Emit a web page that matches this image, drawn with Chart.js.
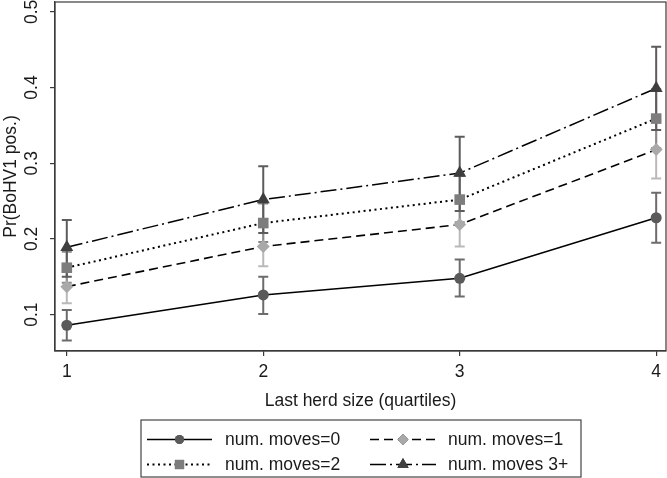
<!DOCTYPE html>
<html>
<head>
<meta charset="utf-8">
<script src="https://cdn.jsdelivr.net/npm/chart.js@4/dist/chart.umd.min.js"></script>
<style>
  html, body { margin: 0; padding: 0; background: #fff; }
  #wrap { width: 667px; height: 478px; position: relative; }
</style>
</head>
<body>
<div id="wrap"><canvas id="chart"></canvas></div>
<script>
// ─── Data ─────────────────────────────────────────────────────────────────────
const herdQuartiles = [1, 2, 3, 4];
const xTicks = [1, 2, 3, 4];
const yTicks = [0.1, 0.2, 0.3, 0.4, 0.5];
const yTickLabels = ['0.1', '0.2', '0.3', '0.4', '0.5'];

const seriesLabels = ['num. moves=0', 'num. moves=1', 'num. moves=2', 'num. moves 3+'];

const moves0 = [0.086, 0.126, 0.148, 0.228];
const moves0Lo = [0.066, 0.101, 0.124, 0.195];
const moves0Hi = [0.106, 0.150, 0.173, 0.261];

const moves1 = [0.137, 0.190, 0.219, 0.318];
const moves1Lo = [0.115, 0.164, 0.190, 0.280];
const moves1Hi = [0.159, 0.216, 0.249, 0.357];

const moves2 = [0.162, 0.221, 0.252, 0.359];
const moves2Lo = [0.142, 0.196, 0.222, 0.320];
const moves2Hi = [0.183, 0.247, 0.283, 0.398];

const moves3 = [0.189, 0.252, 0.287, 0.399];
const moves3Lo = [0.150, 0.208, 0.237, 0.344];
const moves3Hi = [0.225, 0.296, 0.335, 0.454];

// ─── Styles ───────────────────────────────────────────────────────────────────
const FONT = 'Liberation Sans, Arial, Helvetica, sans-serif';
const FSIZE = 17.5;
const styles = [
    { point: 'circle', radius: 5.5, fill: '#5a5a5a', bar: '#6c6c6c', dash: [], width: 1.5 },
    { point: 'rectRot', radius: 6.5, fill: '#a9a9a9', bar: '#b9b9b9', dash: [9, 5], width: 1.6 },
    { point: 'rect', radius: 7.5, fill: '#7d7d7d', bar: '#8a8a8a', dash: [2, 3.5], width: 2 },
    { point: 'triangle', radius: 7.5, fill: '#3f3f3f', bar: '#5c5c5c', dash: [16, 4, 2, 4], width: 1.5 },
];
const values = [moves0, moves1, moves2, moves3];
const lows = [moves0Lo, moves1Lo, moves2Lo, moves3Lo];
const highs = [moves0Hi, moves1Hi, moves2Hi, moves3Hi];

const datasets = values.map((vals, i) => ({
    label: seriesLabels[i],
    data: herdQuartiles.map((q, j) => ({ x: q, y: vals[j] })),
    borderColor: '#000',
    borderWidth: styles[i].width,
    borderDash: styles[i].dash,
    pointStyle: styles[i].point,
    pointRadius: styles[i].radius,
    pointBackgroundColor: styles[i].fill,
    pointBorderColor: styles[i].fill,
    pointBorderWidth: 0,
    tension: 0,
    fill: false,
}));

// ─── Plugins ──────────────────────────────────────────────────────────────────
const errorBars = {
    id: 'errorBars',
    beforeDatasetsDraw(chart) {
        const { ctx, scales: { x, y } } = chart;
        ctx.save();
        ctx.lineWidth = 2;
        ctx.setLineDash([]);
        values.forEach((vals, i) => {
            ctx.strokeStyle = styles[i].bar;
            herdQuartiles.forEach((q, j) => {
                const px = x.getPixelForValue(q);
                const top = y.getPixelForValue(highs[i][j]);
                const bot = y.getPixelForValue(lows[i][j]);
                ctx.beginPath();
                ctx.moveTo(px, top); ctx.lineTo(px, bot);
                ctx.moveTo(px - 5, top); ctx.lineTo(px + 5, top);
                ctx.moveTo(px - 5, bot); ctx.lineTo(px + 5, bot);
                ctx.stroke();
            });
        });
        ctx.restore();
    },
};

const frame = {
    id: 'frame',
    afterDraw(chart) {
        const { ctx, chartArea: a } = chart;
        ctx.save();
        ctx.strokeStyle = '#3a3a3a';
        ctx.lineWidth = 1.2;
        ctx.strokeRect(a.left, a.top, a.right - a.left, a.bottom - a.top);
        ctx.restore();
    },
};

// legend box with line + marker samples, Stata style
const boxLegend = {
    id: 'boxLegend',
    afterDraw(chart) {
        const { ctx } = chart;
        const box = { left: 141, top: 420, right: 581, bottom: 477 };
        const rows = [439.5, 464.5];
        const cols = [{ x0: 147, x1: 212, tx: 225 }, { x0: 370, x1: 436, tx: 448 }];
        ctx.save();
        ctx.strokeStyle = '#444';
        ctx.lineWidth = 1.2;
        ctx.strokeRect(box.left, box.top, box.right - box.left, box.bottom - box.top);
        chart.data.datasets.forEach((ds, i) => {
            const c = cols[i % 2];
            const ry = rows[Math.floor(i / 2)];
            ctx.strokeStyle = '#000';
            ctx.lineWidth = ds.borderWidth;
            ctx.setLineDash(ds.borderDash);
            ctx.beginPath();
            ctx.moveTo(c.x0, ry); ctx.lineTo(c.x1, ry);
            ctx.stroke();
            ctx.setLineDash([]);
            Chart.helpers.drawPoint(ctx, {
                pointStyle: ds.pointStyle,
                radius: ds.pointRadius - 1,
                borderWidth: 0,
                rotation: 0,
            }, (c.x0 + c.x1) / 2, ry);
            ctx.fillStyle = ds.pointBackgroundColor;
            ctx.fill();
            ctx.fillStyle = '#1a1a1a';
            ctx.font = FSIZE + 'px ' + FONT;
            ctx.textBaseline = 'middle';
            ctx.textAlign = 'left';
            ctx.fillText(ds.label, c.tx, ry + 1);
        });
        ctx.restore();
    },
};

// ─── Chart ────────────────────────────────────────────────────────────────────
new Chart(document.getElementById('chart'), {
    type: 'line',
    data: { datasets },
    plugins: [errorBars, frame, boxLegend],
    options: {
        responsive: true,
        maintainAspectRatio: false,
        animation: false,
        clip: false,
        layout: { autoPadding: false, padding: { left: 0, right: 1, top: 2, bottom: 66 } },
        plugins: {
            legend: { display: false },
            tooltip: { enabled: false },
        },
        scales: {
            x: {
                type: 'linear',
                min: 0.94,
                max: 4.05,
                afterBuildTicks: s => { s.ticks = xTicks.map(v => ({ value: v })); },
                afterFit: s => { s.height = 61; s.paddingLeft = 0; s.paddingRight = 0; },
                ticks: {
                    autoSkip: false,
                    maxRotation: 0,
                    padding: 6,
                    color: '#1a1a1a',
                    font: { family: FONT, size: FSIZE },
                    callback: v => String(v),
                },
                grid: { drawOnChartArea: false, drawTicks: true, tickLength: 5, color: '#3a3a3a', lineWidth: 1.2 },
                border: { display: true, color: '#3a3a3a', width: 1.2 },
                title: {
                    display: true,
                    text: 'Last herd size (quartiles)',
                    color: '#1a1a1a',
                    font: { family: FONT, size: FSIZE },
                    padding: { top: 0, bottom: 0 },
                },
            },
            y: {
                type: 'linear',
                min: 0.052,
                max: 0.513,
                afterBuildTicks: s => { s.ticks = yTicks.map(v => ({ value: v })); },
                afterFit: s => { s.width = 55; s.paddingTop = 0; s.paddingBottom = 0; },
                ticks: {
                    autoSkip: false,
                    minRotation: 90,
                    maxRotation: 90,
                    crossAlign: 'center',
                    padding: 6,
                    color: '#1a1a1a',
                    font: { family: FONT, size: FSIZE },
                    callback: (v, idx) => yTickLabels[idx],
                },
                grid: { drawOnChartArea: false, drawTicks: true, tickLength: 5, color: '#3a3a3a', lineWidth: 1.2 },
                border: { display: true, color: '#3a3a3a', width: 1.2 },
                title: {
                    display: true,
                    text: 'Pr(BoHV1 pos.)',
                    color: '#1a1a1a',
                    font: { family: FONT, size: FSIZE },
                    padding: { top: 1, bottom: 0 },
                },
            },
        },
    },
});
</script>
</body>
</html>
